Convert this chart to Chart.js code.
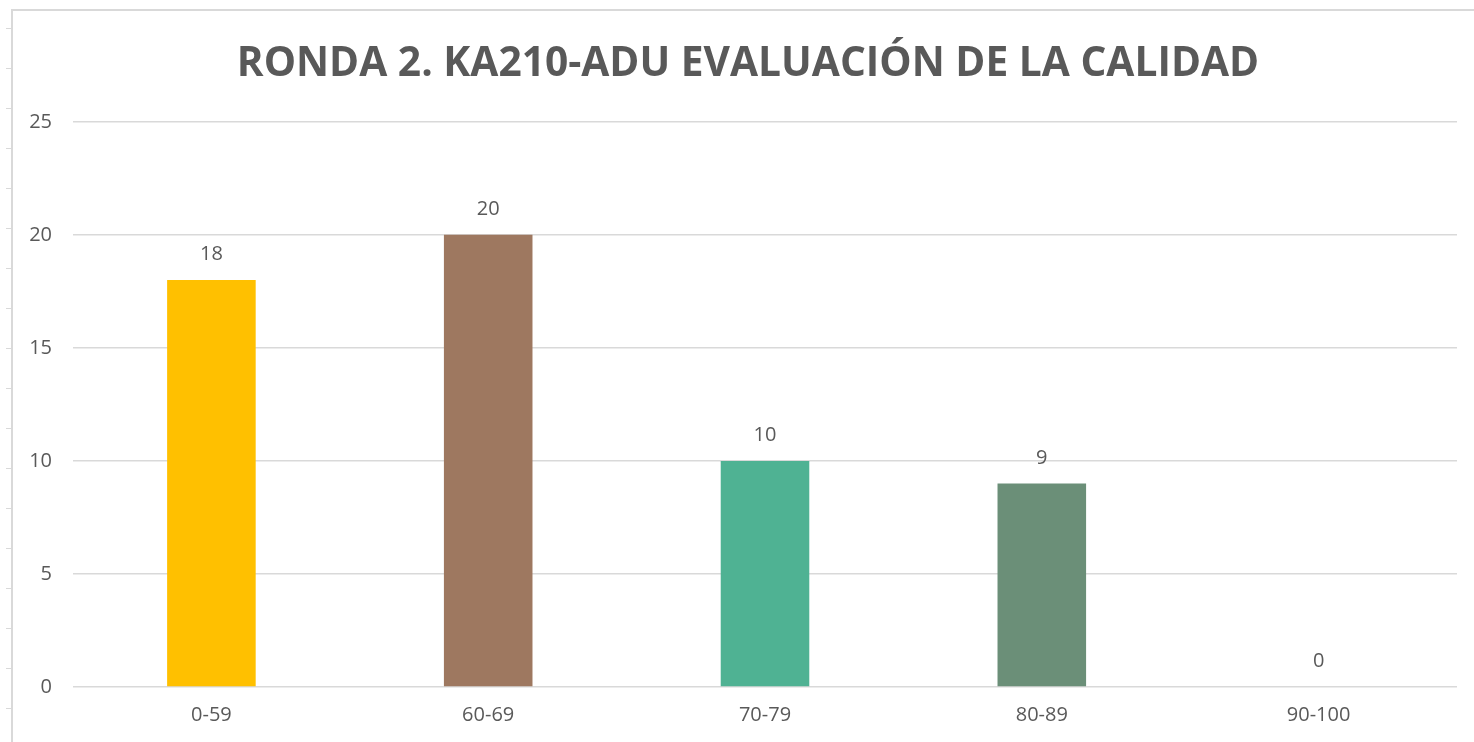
<!DOCTYPE html>
<html>
<head>
<meta charset="utf-8">
<script src="https://cdn.jsdelivr.net/npm/chart.js@4"></script>
<style>
  html, body { margin: 0; padding: 0; background: #fff; }
  #wrap { position: relative; width: 1474px; height: 742px; }
  #frame { position: absolute; left: 11px; top: 9px; right: 0; bottom: 0;
           border-left: 2px solid #d9d9d9; border-top: 2px solid #d9d9d9; }
  /* spreadsheet row marks peeking out on the left */
  #rows { position: absolute; left: 6px; top: 28px; width: 5px; bottom: 0;
          background: repeating-linear-gradient(to bottom, #d9d9d9 0, #d9d9d9 1px, transparent 1px, transparent 40px); }
  canvas { position: absolute; left: 0; top: 0; }
</style>
</head>
<body>
<div id="wrap">
  <div id="frame"></div>
  <div id="rows"></div>
  <canvas id="chart" width="1474" height="742"></canvas>
</div>
<script>
var chartTitle = 'RONDA 2. KA210-ADU EVALUACIÓN DE LA CALIDAD';
var categories = ['0-59', '60-69', '70-79', '80-89', '90-100'];
var counts = [18, 20, 10, 9, 0];
var barColors = ['#ffc000', '#9e7860', '#4fb293', '#6b8f78', '#5b9bd5'];
var yTicks = [0, 5, 10, 15, 20, 25];

var textColor = '#595959';

// draws the value above each bar, like excel data labels
var valueLabels = {
    id: 'valueLabels',
    afterDatasetsDraw: function(chart) {
        var ctx = chart.ctx;
        var meta = chart.getDatasetMeta(0);
        ctx.save();
        ctx.font = '20px "Open Sans"';
        ctx.fillStyle = textColor;
        ctx.textAlign = 'center';
        ctx.textBaseline = 'alphabetic';
        meta.data.forEach(function(bar, i) {
            ctx.fillText(String(counts[i]), bar.x, bar.y - 20);
        });
        ctx.restore();
    }
};

// excel centres the title over the whole chart box, not the plot width
var titleShift = {
    id: 'titleShift',
    afterLayout: function(chart) {
        if (chart.titleBlock) {
            chart.titleBlock.left = 39;
            chart.titleBlock.right = chart.width - 17;
        }
    }
};

new Chart(document.getElementById('chart'), {
    type: 'bar',
    data: {
        labels: categories,
        datasets: [{
            data: counts,
            backgroundColor: barColors,
            borderWidth: 0,
            barPercentage: 0.32,
            categoryPercentage: 1
        }]
    },
    options: {
        responsive: false,
        animation: false,
        layout: { padding: { left: 0, right: 17, top: 0, bottom: -1 } },
        plugins: {
            legend: { display: false },
            tooltip: { enabled: false },
            title: {
                display: true,
                text: chartTitle,
                color: textColor,
                font: { family: 'Open Sans', size: 40.7, weight: 'bold' },
                padding: { top: 40, bottom: 33 }
            }
        },
        scales: {
            x: {
                grid: { display: false, drawTicks: false },
                border: { display: false },
                ticks: { color: textColor, font: { family: 'Open Sans', size: 20 }, padding: 16 }
            },
            y: {
                min: 0,
                max: 25,
                afterBuildTicks: function(axis) {
                    axis.ticks = yTicks.map(function(v) { return { value: v }; });
                },
                afterFit: function(axis) { axis.width = 73; },
                grid: { color: '#d9d9d9', lineWidth: 1.5, drawTicks: false },
                border: { display: false },
                ticks: { color: textColor, font: { family: 'Open Sans', size: 20 }, padding: 21 }
            }
        }
    },
    plugins: [valueLabels, titleShift]
});
</script>
</body>
</html>
